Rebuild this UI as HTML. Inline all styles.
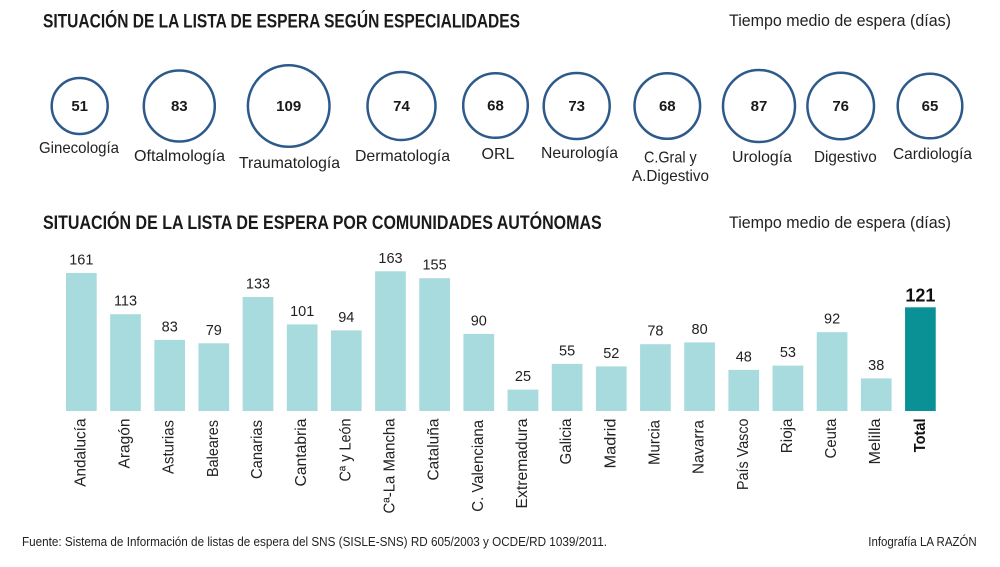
<!DOCTYPE html>
<html>
<head>
<meta charset="utf-8">
<style>
html,body{margin:0;padding:0;background:#fff;}
svg{display:block;}
text{font-family:"Liberation Sans Narrow","Liberation Sans",sans-serif;fill:#1a1a1a;}
.t{font-weight:bold;font-size:19px;}
.sub{font-size:16.5px;fill:#222;}
.cn{font-family:"Liberation Sans",sans-serif;font-weight:bold;font-size:15px;text-anchor:middle;}
.cl{font-size:16px;fill:#222;}
.v{font-family:"Liberation Sans",sans-serif;font-size:14.5px;text-anchor:middle;fill:#222;}
.xl{font-size:15.5px;text-anchor:end;fill:#222;}
.f{font-size:13px;fill:#222;}
</style>
</head>
<body>
<svg width="1000" height="567" viewBox="0 0 1000 567" xmlns="http://www.w3.org/2000/svg">
<rect width="1000" height="567" fill="#fff"/>

<!-- Titles -->
<text class="t" x="43" y="27.5" textLength="477" lengthAdjust="spacingAndGlyphs">SITUACIÓN DE LA LISTA DE ESPERA SEGÚN ESPECIALIDADES</text>
<text class="sub" x="729" y="26" textLength="222" lengthAdjust="spacingAndGlyphs">Tiempo medio de espera (días)</text>

<!-- Circles -->
<g fill="none" stroke="#2d5a8a" stroke-width="2.5">
<circle cx="79.7" cy="106" r="28"/>
<circle cx="179.3" cy="106" r="35.5"/>
<circle cx="288.7" cy="106" r="40.8"/>
<circle cx="401.5" cy="106" r="34"/>
<circle cx="495.5" cy="105.5" r="32.3"/>
<circle cx="576.7" cy="106" r="33"/>
<circle cx="667.3" cy="106" r="32.8"/>
<circle cx="759" cy="106" r="36"/>
<circle cx="840.7" cy="106" r="33.3"/>
<circle cx="930" cy="106" r="32.3"/>
</g>
<text class="cn" x="79.7" y="111">51</text>
<text class="cn" x="179.3" y="111">83</text>
<text class="cn" x="288.7" y="111">109</text>
<text class="cn" x="401.5" y="111">74</text>
<text class="cn" x="495.5" y="110.5">68</text>
<text class="cn" x="576.7" y="111">73</text>
<text class="cn" x="667.3" y="111">68</text>
<text class="cn" x="759" y="111">87</text>
<text class="cn" x="840.7" y="111">76</text>
<text class="cn" x="930" y="111">65</text>

<text class="cl" x="39" y="153" textLength="80" lengthAdjust="spacingAndGlyphs">Ginecología</text>
<text class="cl" x="134" y="161" textLength="91" lengthAdjust="spacingAndGlyphs">Oftalmología</text>
<text class="cl" x="239" y="168" textLength="101" lengthAdjust="spacingAndGlyphs">Traumatología</text>
<text class="cl" x="355" y="161" textLength="95" lengthAdjust="spacingAndGlyphs">Dermatología</text>
<text class="cl" x="498" y="159" text-anchor="middle">ORL</text>
<text class="cl" x="541" y="158" textLength="77" lengthAdjust="spacingAndGlyphs">Neurología</text>
<text class="cl" x="644" y="162.5" textLength="52.7" lengthAdjust="spacingAndGlyphs">C.Gral y</text>
<text class="cl" x="632" y="181" textLength="77" lengthAdjust="spacingAndGlyphs">A.Digestivo</text>
<text class="cl" x="732" y="162" textLength="60" lengthAdjust="spacingAndGlyphs">Urología</text>
<text class="cl" x="814" y="162" textLength="62.7" lengthAdjust="spacingAndGlyphs">Digestivo</text>
<text class="cl" x="893" y="159" textLength="79" lengthAdjust="spacingAndGlyphs">Cardiología</text>

<!-- Second title -->
<text class="t" x="43" y="229" textLength="558.7" lengthAdjust="spacingAndGlyphs">SITUACIÓN DE LA LISTA DE ESPERA POR COMUNIDADES AUTÓNOMAS</text>
<text class="sub" x="729" y="228" textLength="222" lengthAdjust="spacingAndGlyphs">Tiempo medio de espera (días)</text>

<!-- Bars -->
<g fill="#a7dbdd">
<rect x="66" y="273.0" width="30.7" height="138.0"/>
<rect x="110.16" y="314.2" width="30.7" height="96.8"/>
<rect x="154.32" y="339.9" width="30.7" height="71.1"/>
<rect x="198.48" y="343.3" width="30.7" height="67.7"/>
<rect x="242.64" y="297.0" width="30.7" height="114.0"/>
<rect x="286.8" y="324.4" width="30.7" height="86.6"/>
<rect x="330.96" y="330.4" width="30.7" height="80.6"/>
<rect x="375.12" y="271.3" width="30.7" height="139.7"/>
<rect x="419.28" y="278.2" width="30.7" height="132.8"/>
<rect x="463.44" y="333.9" width="30.7" height="77.1"/>
<rect x="507.6" y="389.6" width="30.7" height="21.4"/>
<rect x="551.76" y="363.9" width="30.7" height="47.1"/>
<rect x="595.92" y="366.4" width="30.7" height="44.6"/>
<rect x="640.08" y="344.2" width="30.7" height="66.8"/>
<rect x="684.24" y="342.4" width="30.7" height="68.6"/>
<rect x="728.4" y="369.9" width="30.7" height="41.1"/>
<rect x="772.56" y="365.6" width="30.7" height="45.4"/>
<rect x="816.72" y="332.2" width="30.7" height="78.8"/>
<rect x="860.88" y="378.4" width="30.7" height="32.6"/>
</g>
<rect x="905.04" y="307.3" width="30.7" height="103.7" fill="#0a9196"/>

<!-- Value labels -->
<text class="v" x="81.35" y="264.5">161</text>
<text class="v" x="125.5" y="305.7">113</text>
<text class="v" x="169.7" y="331.4">83</text>
<text class="v" x="213.8" y="334.8">79</text>
<text class="v" x="258.0" y="288.5">133</text>
<text class="v" x="302.2" y="315.9">101</text>
<text class="v" x="346.3" y="321.9">94</text>
<text class="v" x="390.5" y="262.8">163</text>
<text class="v" x="434.6" y="269.7">155</text>
<text class="v" x="478.8" y="325.4">90</text>
<text class="v" x="523.0" y="381.1">25</text>
<text class="v" x="567.1" y="355.4">55</text>
<text class="v" x="611.3" y="357.9">52</text>
<text class="v" x="655.4" y="335.7">78</text>
<text class="v" x="699.6" y="333.9">80</text>
<text class="v" x="743.8" y="361.4">48</text>
<text class="v" x="787.9" y="357.1">53</text>
<text class="v" x="832.1" y="323.7">92</text>
<text class="v" x="876.2" y="369.9">38</text>
<text x="920.4" y="301.5" text-anchor="middle" style="font-weight:bold;font-size:18px;fill:#111">121</text>

<!-- Rotated category labels -->
<text class="xl" transform="translate(85.3,418.5) rotate(-90)" textLength="68.3" lengthAdjust="spacingAndGlyphs">Andalucía</text>
<text class="xl" transform="translate(129.5,418.5) rotate(-90)" textLength="50" lengthAdjust="spacingAndGlyphs">Aragón</text>
<text class="xl" transform="translate(173.7,420) rotate(-90)" textLength="54" lengthAdjust="spacingAndGlyphs">Asturias</text>
<text class="xl" transform="translate(217.8,420) rotate(-90)" textLength="57" lengthAdjust="spacingAndGlyphs">Baleares</text>
<text class="xl" transform="translate(262.0,420) rotate(-90)" textLength="59" lengthAdjust="spacingAndGlyphs">Canarias</text>
<text class="xl" transform="translate(306.2,418.5) rotate(-90)" textLength="68" lengthAdjust="spacingAndGlyphs">Cantabria</text>
<text class="xl" transform="translate(350.3,418.5) rotate(-90)" textLength="63" lengthAdjust="spacingAndGlyphs">Cª y León</text>
<text class="xl" transform="translate(394.5,418.5) rotate(-90)" textLength="95" lengthAdjust="spacingAndGlyphs">Cª-La Mancha</text>
<text class="xl" transform="translate(438.6,418.5) rotate(-90)" textLength="62" lengthAdjust="spacingAndGlyphs">Cataluña</text>
<text class="xl" transform="translate(482.8,420) rotate(-90)" textLength="91.7" lengthAdjust="spacingAndGlyphs">C. Valenciana</text>
<text class="xl" transform="translate(527.0,418.5) rotate(-90)" textLength="90" lengthAdjust="spacingAndGlyphs">Extremadura</text>
<text class="xl" transform="translate(571.1,418.5) rotate(-90)" textLength="46" lengthAdjust="spacingAndGlyphs">Galicia</text>
<text class="xl" transform="translate(615.3,418.5) rotate(-90)" textLength="50" lengthAdjust="spacingAndGlyphs">Madrid</text>
<text class="xl" transform="translate(659.4,420) rotate(-90)" textLength="45" lengthAdjust="spacingAndGlyphs">Murcia</text>
<text class="xl" transform="translate(703.6,420) rotate(-90)" textLength="54" lengthAdjust="spacingAndGlyphs">Navarra</text>
<text class="xl" transform="translate(747.8,418.5) rotate(-90)" textLength="71.5" lengthAdjust="spacingAndGlyphs">País Vasco</text>
<text class="xl" transform="translate(791.9,418.5) rotate(-90)" textLength="34.7" lengthAdjust="spacingAndGlyphs">Rioja</text>
<text class="xl" transform="translate(836.1,418.5) rotate(-90)" textLength="40" lengthAdjust="spacingAndGlyphs">Ceuta</text>
<text class="xl" transform="translate(880.2,418.5) rotate(-90)" textLength="46" lengthAdjust="spacingAndGlyphs">Melilla</text>
<text class="xl" transform="translate(925,418.5) rotate(-90)" textLength="33.7" lengthAdjust="spacingAndGlyphs" style="font-weight:bold;fill:#111">Total</text>

<!-- Footer -->
<text class="f" x="22" y="546" textLength="585" lengthAdjust="spacingAndGlyphs">Fuente: Sistema de Información de listas de espera del SNS (SISLE-SNS) RD 605/2003 y OCDE/RD 1039/2011.</text>
<text class="f" x="868.3" y="546" textLength="108.4" lengthAdjust="spacingAndGlyphs">Infografía LA RAZÓN</text>
</svg>
</body>
</html>
